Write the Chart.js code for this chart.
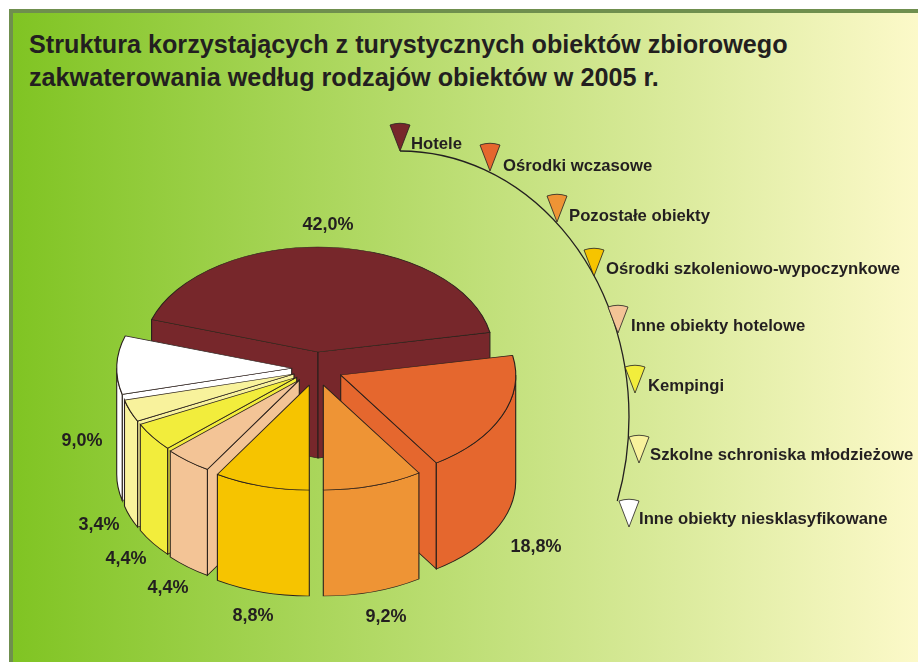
<!DOCTYPE html>
<html lang="pl">
<head>
<meta charset="utf-8">
<title>Struktura korzystających</title>
<script src="https://cdn.jsdelivr.net/npm/chart.js@4/dist/chart.umd.min.js"></script>
<style>
  html, body { margin: 0; padding: 0; background: #fff; }
  #panel {
    position: absolute; left: 9px; top: 9px; width: 909px; height: 653px;
    box-sizing: border-box;
    border-left: 4px solid #6f8f4e; border-top: 4px solid #6f8f4e;
    background: linear-gradient(90deg, #80c423 0%, #fcf9c9 100%);
  }
  #tytul {
    position: absolute; left: 29px; top: 28px; margin: 0;
    font: bold 25.2px/33px "Liberation Sans", Arial, sans-serif;
    color: #231f20; white-space: nowrap;
  }
  canvas { position: absolute; left: 0; top: 0; }
</style>
</head>
<body>
<div id="panel"></div>
<h1 id="tytul">Struktura korzystających z turystycznych obiektów zbiorowego<br>zakwaterowania według rodzajów obiektów w 2005 r.</h1>
<canvas id="wykres" width="918" height="662"></canvas>
<script>
// --- Data ---
const categories = [
  "Hotele",
  "Ośrodki wczasowe",
  "Pozostałe obiekty",
  "Ośrodki szkoleniowo-wypoczynkowe",
  "Inne obiekty hotelowe",
  "Kempingi",
  "Szkolne schroniska młodzieżowe",
  "Inne obiekty niesklasyfikowane",
];
const shares = [42.0, 18.8, 9.2, 8.8, 4.4, 4.4, 3.4, 9.0];
const colors = ["#77272b", "#e5672e", "#ee9435", "#f6c400", "#f3c496", "#f2ed3c", "#f8f29c", "#ffffff"];

// --- Layout of the fake 3D pie and its annotations ---
const INK = "#231f20";
const FONT = '"Liberation Sans", Arial, sans-serif';
const CENTER = { x: 318, y: 352 };
const SQUASH = 0.6;
const DEPTH = 106;
// how far each slice is pulled out, in screen pixels
const pullOut = [[0, 0], [22.7, 23], [5.3, 33], [-8.7, 33], [-18.7, 28], [-21.3, 25.3], [-24, 22], [-26.3, 16.3]];
const valueLabelAt = [[328, 225], [536, 547], [386, 617], [253, 616], [168, 588], [126, 559], [99, 525], [82, 441]];
const legendTextAt = [[411, 144], [503, 166.5], [569, 216.5], [606, 269.5], [631, 326.5], [648, 386.5], [650, 455.5], [639, 519.5]];
const legendTipAt = [[400, 151], [490, 171], [557, 222], [594, 276], [618, 333], [635, 393], [639, 463], [629, 527]];

function drawWalls(ctx, arc) {
  const { x, y, startAngle, endAngle, outerRadius: r } = arc.getProps(["x", "y", "startAngle", "endAngle", "outerRadius"], true);
  const d = DEPTH / SQUASH;
  ctx.fillStyle = arc.options.backgroundColor;
  ctx.strokeStyle = arc.options.borderColor;
  ctx.lineWidth = 1.1;

  // radial walls, only the ones facing the viewer
  const radial = (a) => {
    ctx.beginPath();
    ctx.moveTo(x, y);
    ctx.lineTo(x + r * Math.cos(a), y + r * Math.sin(a));
    ctx.lineTo(x + r * Math.cos(a), y + r * Math.sin(a) + d);
    ctx.lineTo(x, y + d);
    ctx.closePath();
    ctx.fill();
    ctx.stroke();
  };
  if (-Math.cos(startAngle) > 0.001) radial(startAngle);
  if (Math.cos(endAngle) > 0.001) radial(endAngle);

  // outer wall, only the front half of the rim
  [0, 2 * Math.PI].forEach((k) => {
    const lo = Math.max(startAngle, k);
    const hi = Math.min(endAngle, k + Math.PI);
    if (hi <= lo) return;
    ctx.beginPath();
    ctx.arc(x, y, r, lo, hi);
    ctx.arc(x, y + d, r, hi, lo, true);
    ctx.closePath();
    ctx.fill();
    ctx.stroke();
  });
}

const pie3d = {
  id: "pie3d",
  // replaces the normal arc drawing: the library's arcs are reused under a squashed transform
  beforeDatasetsDraw(chart) {
    const ctx = chart.ctx;
    const arcs = chart.getDatasetMeta(0).data.map((arc, i) => ({ arc, i }));
    const midSin = (o) => Math.sin((o.arc.startAngle + o.arc.endAngle) / 2);
    arcs.sort((a, b) => midSin(a) - midSin(b));
    arcs.forEach(({ arc, i }) => {
      ctx.save();
      ctx.translate(CENTER.x + pullOut[i][0], CENTER.y + pullOut[i][1]);
      ctx.scale(1, SQUASH);
      ctx.translate(-arc.x, -arc.y);
      drawWalls(ctx, arc);
      arc.draw(ctx);
      ctx.restore();
    });
    return false;
  },
  afterDraw(chart) {
    const ctx = chart.ctx;
    ctx.save();

    // percentages
    ctx.fillStyle = INK;
    ctx.font = "bold 18px " + FONT;
    ctx.textAlign = "center";
    ctx.textBaseline = "middle";
    shares.forEach((v, i) => {
      ctx.fillText(v.toFixed(1).replace(".", ",") + "%", valueLabelAt[i][0], valueLabelAt[i][1]);
    });

    // curved line holding the legend
    ctx.strokeStyle = INK;
    ctx.lineWidth = 1.3;
    ctx.beginPath();
    ctx.ellipse(400, 417, 229, 266, 0, -Math.PI / 2, 0.3213);
    ctx.stroke();

    // legend wedges and names
    categories.forEach((name, i) => {
      const [tx, ty] = legendTipAt[i];
      ctx.beginPath();
      ctx.moveTo(tx, ty);
      ctx.lineTo(tx - 10, ty - 26);
      ctx.quadraticCurveTo(tx, ty - 29.5, tx + 10, ty - 26);
      ctx.closePath();
      ctx.fillStyle = colors[i];
      ctx.fill();
      ctx.lineWidth = 0.8;
      ctx.stroke();

      ctx.fillStyle = INK;
      ctx.font = "bold 16.7px " + FONT;
      ctx.textAlign = "left";
      ctx.fillText(name, legendTextAt[i][0], legendTextAt[i][1]);
    });
    ctx.restore();
  },
};

new Chart(document.getElementById("wykres"), {
  type: "pie",
  data: {
    labels: categories,
    datasets: [{
      data: shares,
      backgroundColor: colors,
      borderColor: "#2a201c",
      borderWidth: 1.1,
    }],
  },
  options: {
    responsive: false,
    animation: false,
    events: [],
    radius: 175,
    rotation: 288,
    plugins: { legend: { display: false }, tooltip: { enabled: false } },
  },
  plugins: [pie3d],
});
</script>
</body>
</html>
